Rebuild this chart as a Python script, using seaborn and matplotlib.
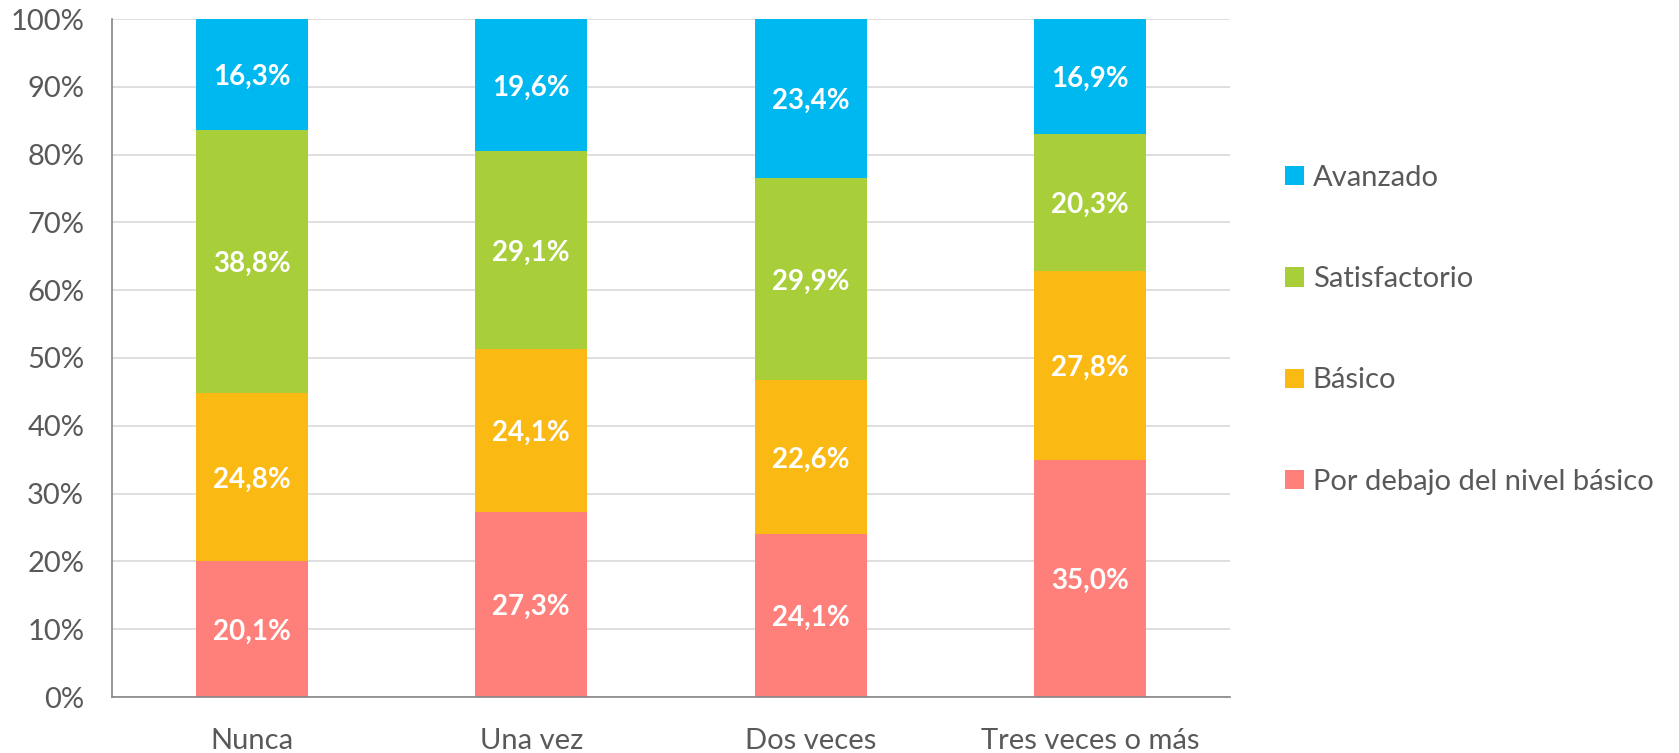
import matplotlib
matplotlib.use("Agg")
import matplotlib.pyplot as plt
from matplotlib.patches import Patch
from matplotlib.ticker import FixedLocator, PercentFormatter
import seaborn as sns
import pandas as pd
import numpy as np

categories = ["Nunca", "Una vez", "Dos veces", "Tres veces o más"]
levels = ["Por debajo del nivel básico", "Básico", "Satisfactorio", "Avanzado"]
por_debajo = [20.1, 27.3, 24.1, 35.0]
basico = [24.8, 24.1, 22.6, 27.8]
satisfactorio = [38.8, 29.1, 29.9, 20.3]
avanzado = [16.3, 19.6, 23.4, 16.9]
colors = ["#FF7F7A", "#FBB913", "#A8CE3A", "#00B8F0"]

sns.set_style("white")
plt.rcParams["font.family"] = ["Lato", "DejaVu Sans"]
text_gray = "#595959"

series = [por_debajo, basico, satisfactorio, avanzado]
df = pd.DataFrame({lvl: vals for lvl, vals in zip(levels, series)}, index=categories)
cum = df.cumsum(axis=1).clip(upper=100)

fig = plt.figure(figsize=(16.79, 7.53), dpi=100)
ax = fig.add_axes([112 / 1679, 1 - 697 / 753, 1118 / 1679, 678 / 753])

# stacked bars: draw cumulative totals from the top segment down
for lvl, col in reversed(list(zip(levels, colors))):
    sns.barplot(x=categories, y=cum[lvl].values, color=col, width=0.4,
                saturation=1, ax=ax, zorder=2, linewidth=0)

# labels in the middle of each segment
for i, cat in enumerate(categories):
    bottom = 0
    for lvl in levels:
        v = df.loc[cat, lvl]
        top = cum.loc[cat, lvl]
        ax.annotate(f"{v:.1f}%".replace(".", ","), (i, (bottom + top) / 2),
                    xytext=(0, -2), textcoords="offset points",
                    ha="center", va="center", color="white", fontsize=20,
                    fontweight="bold", zorder=3)
        bottom = top

ax.set_ylim(0, 100)
ax.set_xlim(-0.5, 3.5)
ax.yaxis.set_major_locator(FixedLocator(np.arange(0, 101, 10)))
ax.yaxis.set_major_formatter(PercentFormatter(decimals=0))
ax.grid(axis="y", color="#D9D9D9", linewidth=1.2, zorder=0)
ax.set_axisbelow(True)

for s in ["top", "right"]:
    ax.spines[s].set_visible(False)
for s in ["left", "bottom"]:
    ax.spines[s].set_color("#868686")
    ax.spines[s].set_linewidth(1.2)

ax.tick_params(axis="y", length=7, width=1.2, color="#868686", pad=13,
               labelsize=21, labelcolor=text_gray)
ax.tick_params(axis="x", which="major", length=0, pad=22,
               labelsize=21, labelcolor=text_gray)
ax.xaxis.set_minor_locator(FixedLocator([-0.5, 0.5, 1.5, 2.5, 3.5]))
ax.tick_params(axis="x", which="minor", length=7, width=1.2, color="#868686")
ax.set_xlabel("")
ax.set_ylabel("")

handles = [Patch(facecolor=c, edgecolor="none") for c in reversed(colors)]
fig.legend(handles, list(reversed(levels)), loc="upper left",
           bbox_to_anchor=(1285 / 1679, 1 - 165 / 753), frameon=False,
           fontsize=21, labelcolor=text_gray, handlelength=0.65,
           handleheight=0.65, handletextpad=0.3, labelspacing=2.58,
           borderpad=0, borderaxespad=0)

fig.savefig("out.png", dpi=100)
